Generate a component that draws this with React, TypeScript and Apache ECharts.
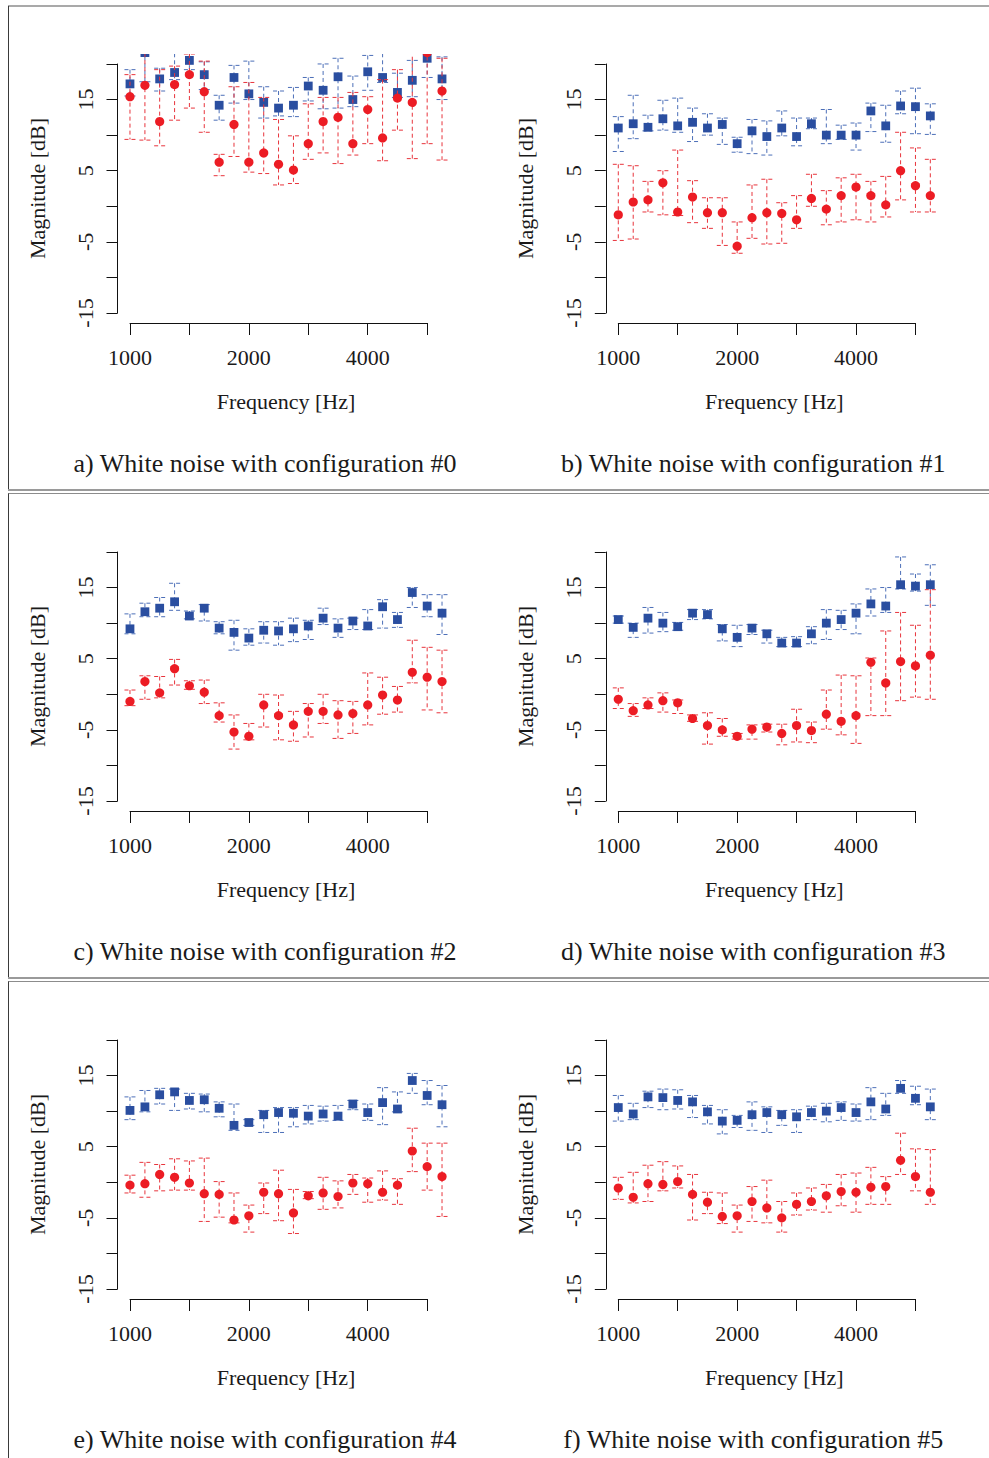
import { useEffect, useRef } from "react";
import * as echarts from "echarts";

// Band centre frequencies (1/8-octave spacing), Hz
const bandFreqs = [
  1000, 1091, 1189, 1297, 1414, 1542, 1682, 1834, 2000, 2181, 2378,
  2594, 2828, 3084, 3364, 3668, 4000, 4362, 4757, 5187, 5657, 6169,
];

// Each entry: [lower, mean, upper] magnitude in dB for one band
const cfg0Blue = [
  [15.5, 17.2, 19.2], [17.5, 21.6, 24.0], [16.2, 17.9, 19.4], [17.8, 18.8, 21.5],
  [19.2, 20.5, 21.8], [16.4, 18.5, 20.3], [12.1, 14.2, 15.6], [14.5, 18.1, 19.8],
  [15.0, 15.8, 20.4], [12.4, 14.6, 16.8], [12.7, 13.8, 16.2], [12.6, 14.2, 16.7],
  [14.8, 16.9, 18.1], [13.7, 16.3, 20.0], [13.8, 18.2, 20.8], [14.0, 15.0, 18.3],
  [16.3, 18.9, 21.2], [17.4, 18.1, 21.5], [15.3, 16.0, 18.7], [15.4, 17.7, 20.5],
  [18.1, 20.8, 23.0], [15.0, 17.9, 21.0],
];
const cfg0Red = [
  [9.4, 15.4, 18.5], [9.3, 17.0, 22.5], [8.5, 11.9, 19.2], [12.1, 17.1, 19.7],
  [13.8, 18.5, 21.4], [10.4, 16.1, 20.4], [4.3, 6.2, 7.3], [7.0, 11.5, 16.8],
  [4.8, 6.2, 17.4], [4.6, 7.5, 15.3], [3.0, 5.9, 12.2], [3.2, 5.1, 9.9],
  [6.6, 8.8, 14.4], [7.5, 11.9, 15.3], [6.0, 12.5, 15.3], [7.2, 8.8, 16.0],
  [8.8, 13.6, 15.4], [6.4, 9.6, 17.8], [10.7, 15.2, 19.2], [6.7, 14.6, 22.0],
  [8.8, 21.6, 24.0], [6.5, 16.2, 20.8],
];

const cfg1Blue = [
  [7.7, 11.0, 12.6], [9.5, 11.6, 15.6], [10.6, 11.1, 12.8], [10.7, 12.3, 14.9],
  [10.4, 11.3, 15.2], [9.1, 11.8, 13.8], [10.0, 11.0, 13.0], [8.7, 11.5, 12.4],
  [7.6, 8.8, 9.7], [7.4, 10.6, 12.2], [7.2, 9.8, 12.0], [9.9, 11.0, 13.4],
  [8.5, 9.8, 12.4], [10.9, 11.6, 12.4], [8.8, 10.0, 13.6], [9.4, 10.0, 11.4],
  [7.9, 10.0, 11.7], [10.5, 13.4, 14.5], [9.0, 11.3, 14.2], [13.0, 14.1, 16.2],
  [10.2, 14.0, 16.6], [10.1, 12.7, 14.4],
];
const cfg1Red = [
  [-4.8, -1.2, 5.9], [-4.6, 0.6, 5.7], [-0.8, 0.9, 3.5], [-1.2, 3.3, 5.0],
  [-1.3, -0.8, 7.9], [-2.3, 1.3, 3.6], [-3.1, -0.9, 1.2], [-5.5, -0.9, 1.2],
  [-6.6, -5.6, -2.2], [-4.5, -1.6, 3.0], [-5.3, -0.9, 3.8], [-5.2, -1.0, 0.5],
  [-3.1, -1.9, 1.5], [0.0, 1.1, 4.5], [-2.6, -0.4, 2.2], [-2.2, 1.5, 4.0],
  [-1.9, 2.7, 4.5], [-2.2, 1.5, 3.5], [-1.5, 0.2, 4.2], [0.9, 5.0, 10.4],
  [-0.8, 2.9, 8.2], [-0.8, 1.5, 6.6],
];

const cfg2Blue = [
  [8.5, 9.2, 11.3], [10.9, 11.6, 12.8], [10.9, 12.1, 13.6], [11.8, 13.0, 15.6],
  [10.6, 11.0, 11.7], [10.3, 12.1, 12.6], [8.5, 9.3, 10.2], [6.2, 8.7, 10.4],
  [6.9, 7.9, 9.2], [7.2, 9.0, 10.2], [6.9, 8.9, 10.2], [7.4, 9.2, 10.7],
  [7.7, 9.6, 10.4], [9.8, 10.7, 12.1], [8.0, 9.3, 10.6], [9.1, 10.3, 10.7],
  [9.1, 9.6, 11.9], [9.3, 12.3, 13.3], [9.4, 10.5, 11.5], [12.2, 14.3, 15.0],
  [10.9, 12.4, 14.0], [8.4, 11.4, 14.0],
];
const cfg2Red = [
  [-1.6, -1.0, 0.6], [-0.7, 1.8, 2.6], [-0.5, 0.2, 2.5], [1.3, 3.6, 4.9],
  [0.7, 1.2, 1.9], [-1.3, 0.3, 2.0], [-3.9, -3.0, -1.2], [-7.7, -5.3, -2.9],
  [-6.4, -5.9, -4.1], [-4.6, -1.5, 0.0], [-6.4, -3.0, -0.1], [-6.6, -4.3, -2.4],
  [-6.0, -2.4, -1.3], [-4.1, -2.4, 0.0], [-6.2, -2.9, -0.9], [-5.5, -2.7, -1.0],
  [-4.3, -1.5, 3.0], [-2.8, -0.1, 2.4], [-2.5, -0.8, 1.1], [1.6, 3.1, 7.6],
  [-2.2, 2.4, 6.6], [-2.6, 1.8, 6.2],
];

const cfg3Blue = [
  [10.0, 10.5, 11.0], [8.0, 9.4, 10.0], [8.6, 10.7, 12.2], [8.8, 10.0, 11.5],
  [9.0, 9.5, 10.1], [10.5, 11.4, 11.9], [10.6, 11.2, 11.9], [7.5, 9.2, 9.8],
  [6.7, 8.0, 9.7], [8.4, 9.3, 9.8], [7.2, 8.5, 9.0], [6.7, 7.2, 8.0],
  [6.7, 7.2, 8.1], [7.1, 8.5, 9.5], [7.7, 10.0, 11.9], [9.1, 10.5, 11.8],
  [8.5, 11.4, 12.7], [11.0, 12.7, 14.8], [11.5, 12.4, 15.0], [14.8, 15.4, 19.3],
  [14.5, 15.2, 16.9], [12.5, 15.4, 18.2],
];
const cfg3Red = [
  [-2.0, -0.7, 0.9], [-3.1, -2.3, -1.3], [-2.0, -1.5, -0.5], [-2.5, -0.9, 0.2],
  [-2.7, -1.2, -0.8], [-3.8, -3.4, -2.9], [-7.0, -4.4, -2.6], [-5.9, -5.0, -3.4],
  [-6.3, -5.9, -5.5], [-6.3, -4.9, -4.3], [-5.3, -4.6, -4.2], [-7.1, -5.5, -4.2],
  [-6.7, -4.4, -2.1], [-6.8, -5.1, -3.9], [-4.9, -2.8, 0.6], [-5.7, -3.8, 2.7],
  [-6.9, -3.0, 2.6], [-3.0, 4.5, 5.1], [-3.0, 1.6, 8.9], [-0.9, 4.6, 11.5],
  [-0.4, 4.0, 9.7], [-0.7, 5.5, 14.7],
];

const cfg4Blue = [
  [8.8, 10.1, 12.0], [9.9, 10.6, 12.9], [11.0, 12.3, 13.2], [10.1, 12.7, 13.1],
  [10.3, 11.5, 12.5], [9.9, 11.6, 12.4], [9.2, 10.4, 11.3], [7.3, 8.0, 11.0],
  [8.0, 8.4, 8.8], [7.0, 9.5, 10.1], [7.0, 9.8, 10.5], [7.8, 9.7, 10.5],
  [8.2, 9.3, 10.8], [8.6, 9.6, 10.7], [8.7, 9.3, 10.8], [10.2, 11.0, 11.5],
  [8.7, 9.8, 11.0], [8.1, 11.2, 13.3], [9.9, 10.3, 12.7], [12.5, 14.3, 15.3],
  [10.9, 12.2, 14.3], [7.8, 10.9, 13.6],
];
const cfg4Red = [
  [-1.5, -0.4, 1.0], [-2.1, -0.2, 2.8], [-1.2, 1.1, 2.5], [-1.1, 0.7, 3.3],
  [-1.1, -0.1, 3.0], [-5.5, -1.6, 3.4], [-4.9, -1.7, 0.1], [-5.7, -5.3, -1.5],
  [-7.0, -4.7, -3.2], [-4.4, -1.4, -0.1], [-5.4, -1.6, 1.7], [-7.2, -4.3, -1.0],
  [-2.3, -1.9, -1.3], [-3.8, -1.5, 0.7], [-3.6, -2.0, 0.2], [-1.7, -0.1, 1.1],
  [-2.8, -0.2, 0.6], [-2.5, -1.4, 1.6], [-3.1, -0.4, 0.5], [1.5, 4.4, 7.6],
  [-1.1, 2.2, 5.5], [-4.8, 0.8, 5.5],
];

const cfg5Blue = [
  [8.6, 10.5, 12.2], [8.8, 9.6, 11.1], [10.5, 12.0, 12.8], [10.2, 11.9, 13.1],
  [10.3, 11.5, 13.0], [9.1, 11.3, 12.2], [8.2, 9.9, 10.8], [6.8, 8.6, 10.2],
  [7.7, 8.7, 9.4], [7.3, 9.5, 11.3], [7.0, 9.8, 10.6], [8.0, 9.5, 10.1],
  [7.0, 9.2, 10.2], [8.8, 9.8, 10.7], [8.5, 10.0, 11.1], [8.7, 10.5, 11.3],
  [8.6, 9.8, 11.0], [8.8, 11.3, 13.3], [9.4, 10.3, 12.5], [12.5, 13.2, 14.3],
  [10.9, 11.8, 13.5], [8.8, 10.6, 13.1],
];
const cfg5Red = [
  [-2.4, -0.8, 0.7], [-2.9, -2.1, 1.4], [-2.7, -0.2, 2.4], [-1.2, -0.3, 2.9],
  [-0.8, 0.1, 2.3], [-5.3, -1.7, 1.1], [-4.4, -2.8, -1.4], [-5.8, -4.8, -1.5],
  [-7.0, -4.7, -3.2], [-5.5, -2.7, -0.6], [-5.7, -3.6, 0.3], [-7.0, -5.0, -2.7],
  [-4.6, -3.1, -1.5], [-3.9, -2.7, -0.8], [-4.2, -1.9, -0.3], [-3.3, -1.3, 1.1],
  [-4.2, -1.4, 1.3], [-3.1, -0.7, 2.1], [-3.1, -0.6, 0.8], [1.1, 3.1, 6.9],
  [-1.2, 0.8, 4.7], [-3.1, -1.4, 4.6],
];

const captions = [
  "a) White noise with configuration #0",
  "b) White noise with configuration #1",
  "c) White noise with configuration #2",
  "d) White noise with configuration #3",
  "e) White noise with configuration #4",
  "f) White noise with configuration #5",
];

const panels = [
  { blue: cfg0Blue, red: cfg0Red, caption: captions[0] },
  { blue: cfg1Blue, red: cfg1Red, caption: captions[1] },
  { blue: cfg2Blue, red: cfg2Red, caption: captions[2] },
  { blue: cfg3Blue, red: cfg3Red, caption: captions[3] },
  { blue: cfg4Blue, red: cfg4Red, caption: captions[4] },
  { blue: cfg5Blue, red: cfg5Red, caption: captions[5] },
];

const FONT = '"Liberation Serif", "Times New Roman", serif';
const TEXT = "#1a1a1a";
const AXIS = "#111";
const BLUE = "#2a4ea0";
const BLUE_BAR = "#4c6fb8";
const RED = "#ec1c24";
const RED_BAR = "#e8343c";

const COL_DX = 488.3;
const ROW_DY = 488;

// x positions are octaves above 1 kHz
const toOctave = (f: number) => Math.log2(f / 1000);

function errorSeries(
  rows: number[][],
  axisIndex: number,
  fill: string,
  stroke: string,
  marker: "square" | "circle"
) {
  return {
    type: "custom",
    xAxisIndex: axisIndex,
    yAxisIndex: axisIndex,
    clip: true,
    silent: true,
    data: rows.map((r, k) => [toOctave(bandFreqs[k]), r[0], r[1], r[2]]),
    renderItem: (_params: any, api: any) => {
      const x = api.value(0);
      const lo = api.coord([x, api.value(1)]);
      const mid = api.coord([x, api.value(2)]);
      const hi = api.coord([x, api.value(3)]);
      const cx = lo[0];
      const dash = { stroke, lineWidth: 1, lineDash: [4, 3], fill: null };
      const cap = 5.5;
      const children: any[] = [
        { type: "line", shape: { x1: cx, y1: hi[1], x2: cx, y2: lo[1] }, style: dash },
        { type: "line", shape: { x1: cx - cap, y1: hi[1], x2: cx + cap, y2: hi[1] }, style: dash },
        { type: "line", shape: { x1: cx - cap, y1: lo[1], x2: cx + cap, y2: lo[1] }, style: dash },
      ];
      if (marker === "square") {
        children.push({
          type: "rect",
          shape: { x: cx - 4.4, y: mid[1] - 4.4, width: 8.8, height: 8.8 },
          style: { fill },
        });
      } else {
        children.push({
          type: "circle",
          shape: { cx, cy: mid[1], r: 4.6 },
          style: { fill },
        });
      }
      return { type: "group", children };
    },
  };
}

function buildOption() {
  const grid: any[] = [];
  const xAxis: any[] = [];
  const yAxis: any[] = [];
  const series: any[] = [];
  const graphic: any[] = [];

  const hidden = {
    axisLine: { show: false },
    axisTick: { show: false },
    axisLabel: { show: false },
    splitLine: { show: false },
  };
  const nameStyle = { fontFamily: FONT, fontSize: 22, color: TEXT };
  const labelStyle = { fontFamily: FONT, fontSize: 22, color: TEXT };
  const axisLineStyle = { color: AXIS, width: 1 };

  panels.forEach((p, i) => {
    const dx = (i % 2) * COL_DX;
    const dy = Math.floor(i / 2) * ROW_DY;
    const g = grid.length;

    // plotting region (data range plus 4% margin on each side)
    grid.push({ left: 117.5 + dx, top: 54 + dy, width: 337, height: 269 });
    // frequency axis, 1000 Hz to 5657 Hz
    grid.push({ left: 130 + dx, top: 54 + dy, width: 297.1, height: 269 });
    // magnitude axis, -15 dB to 20 dB
    grid.push({ left: 117.5 + dx, top: 64 + dy, width: 337, height: 249 });

    xAxis.push({
      gridIndex: g,
      type: "value",
      min: -0.105,
      max: 2.73,
      ...hidden,
      name: "Frequency [Hz]",
      nameLocation: "middle",
      nameGap: 67,
      nameTextStyle: nameStyle,
    });
    yAxis.push({
      gridIndex: g,
      type: "value",
      min: -16.4,
      max: 21.4,
      ...hidden,
      name: "Magnitude [dB]",
      nameLocation: "middle",
      nameGap: 69,
      nameTextStyle: nameStyle,
    });

    xAxis.push({
      gridIndex: g + 1,
      type: "value",
      min: 0,
      max: 2.5,
      interval: 0.5,
      axisLine: { show: true, onZero: false, lineStyle: axisLineStyle },
      axisTick: { show: true, length: 12, lineStyle: axisLineStyle },
      axisLabel: {
        ...labelStyle,
        margin: 23,
        showMinLabel: true,
        showMaxLabel: true,
        formatter: (v: number) =>
          Math.abs(v - Math.round(v)) < 1e-6 ? String(Math.round(1000 * Math.pow(2, v))) : "",
      },
      splitLine: { show: false },
    });
    yAxis.push({ gridIndex: g + 1, type: "value", min: 0, max: 1, show: false });

    xAxis.push({ gridIndex: g + 2, type: "value", min: 0, max: 1, show: false });
    yAxis.push({
      gridIndex: g + 2,
      type: "value",
      min: -15,
      max: 20,
      interval: 5,
      axisLine: { show: true, onZero: false, lineStyle: axisLineStyle },
      axisTick: { show: true, length: 11, lineStyle: axisLineStyle },
      axisLabel: {
        ...labelStyle,
        rotate: 90,
        margin: 21,
        showMinLabel: true,
        showMaxLabel: true,
        formatter: (v: number) => (Math.round(v + 15) % 10 === 0 ? String(v) : ""),
      },
      splitLine: { show: false },
    });

    series.push(errorSeries(p.blue, g, BLUE, BLUE_BAR, "square"));
    series.push(errorSeries(p.red, g, RED, RED_BAR, "circle"));

    graphic.push({
      type: "text",
      x: 265 + dx,
      y: 463 + dy,
      style: {
        text: p.caption,
        font: `26px ${FONT}`,
        fill: TEXT,
        textAlign: "center",
        textVerticalAlign: "middle",
      },
    });
  });

  // row frames
  const frameTops = [6, 493.5, 981.5];
  const frameBottoms = [490, 978, 1470];
  frameTops.forEach((t, r) => {
    graphic.push({
      type: "line",
      shape: { x1: 8, y1: t, x2: 989, y2: t },
      style: { stroke: "#8c8c8c", lineWidth: r === 0 ? 1.5 : 1.2 },
    });
    graphic.push({
      type: "line",
      shape: { x1: 8.5, y1: t, x2: 8.5, y2: frameBottoms[r] },
      style: { stroke: "#3a3a3a", lineWidth: 1 },
    });
    if (r < 2) {
      graphic.push({
        type: "line",
        shape: { x1: 8, y1: frameBottoms[r], x2: 989, y2: frameBottoms[r] },
        style: { stroke: "#9a9a9a", lineWidth: 2 },
      });
    }
  });

  return {
    animation: false,
    backgroundColor: "#ffffff",
    grid,
    xAxis,
    yAxis,
    series,
    graphic,
  };
}

export default function App() {
  const ref = useRef<HTMLDivElement>(null);

  useEffect(() => {
    if (!ref.current) return;
    const chart = echarts.init(ref.current, null, { renderer: "svg" });
    chart.setOption(buildOption() as any);
    return () => chart.dispose();
  }, []);

  return (
    <div
      ref={ref}
      style={{
        position: "absolute",
        left: 0,
        top: 0,
        width: 989,
        height: 1458,
        background: "#fff",
      }}
    />
  );
}
